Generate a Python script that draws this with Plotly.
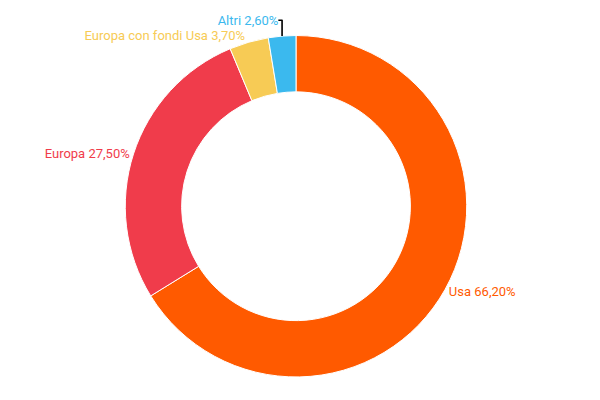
import plotly.graph_objects as go

labels = ["Usa", "Europa", "Europa con fondi Usa", "Altri"]
values = [66.2, 27.5, 3.7, 2.6]
value_text = ["66,20%", "27,50%", "3,70%", "2,60%"]
colors = ["#FF5A00", "#F03C4B", "#F7CB55", "#3BB9EE"]

fig = go.Figure(go.Pie(
    labels=labels,
    values=values,
    customdata=value_text,
    hole=0.67,
    sort=False,
    direction="clockwise",
    rotation=0,
    marker=dict(colors=colors, line=dict(color="white", width=1)),
    texttemplate="%{label} %{customdata}",
    textposition="outside",
    outsidetextfont=dict(color=colors, size=13, family="Roboto"),
    domain=dict(x=[0.18, 0.78], y=[0.08, 0.96]),
    showlegend=False,
))

fig.update_layout(
    width=600, height=400,
    margin=dict(l=0, r=0, t=0, b=0),
    paper_bgcolor="white",
    font=dict(family="Roboto"),
)

fig.write_html("out.html")
